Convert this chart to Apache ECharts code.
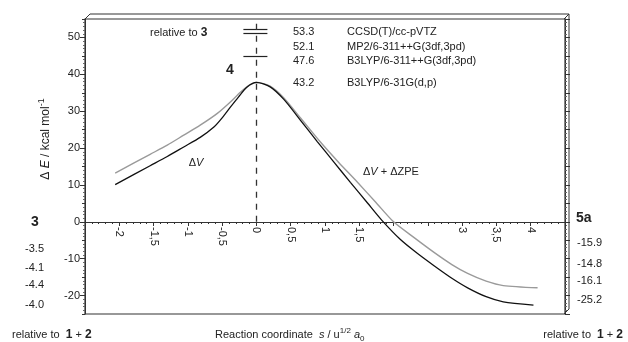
<!DOCTYPE html>
<html>
<head>
<meta charset="utf-8">
<script src="https://cdn.jsdelivr.net/npm/echarts@6/dist/echarts.min.js"></script>
<style>
  html, body { margin: 0; padding: 0; background: #fff; }
  #main { width: 628px; height: 342px; }
</style>
</head>
<body>
<div id="main"></div>
<script>
// ΔV curve (black)
var xV = [-2.06, -1.55, -1.30, -1.06, -0.82, -0.62, -0.50, -0.38, -0.26, -0.14, 0, 0.20, 0.40, 0.64, 0.89, 1.13, 1.37, 1.62, 1.83, 2.10, 2.35, 2.59, 2.85, 3.08, 3.35, 3.60, 4.04];
var yV = [10.1, 15.2, 17.7, 20.3, 22.9, 25.7, 28.2, 31.1, 33.9, 36.5, 37.8, 36.6, 33.2, 27.6, 21.7, 16.2, 10.7, 5.1, 0.4, -4.8, -8.6, -11.9, -15.3, -17.9, -20.3, -21.7, -22.6];
// ΔV + ΔZPE curve (grey)
var xZ = [-2.06, -1.55, -1.30, -1.06, -0.82, -0.57, -0.38, -0.23, -0.09, 0, 0.20, 0.40, 0.65, 0.93, 1.20, 1.47, 1.74, 2.00, 2.30, 2.59, 2.85, 3.08, 3.35, 3.60, 4.10];
var yZ = [13.2, 18.3, 20.8, 23.5, 26.2, 29.4, 32.5, 35.2, 37.2, 37.8, 36.8, 33.6, 28.0, 21.7, 16.1, 10.8, 5.3, 0.0, -4.3, -8.3, -11.6, -14.0, -16.1, -17.3, -17.9];

// short level markers near the top
var levelMarks = [52.1, 51.2, 44.9];
var levelFrom = -0.19, levelTo = 0.16;

// tick labels
var xLabelValues = [-2, -1.5, -1, -0.5, 0, 0.5, 1, 1.5, 3, 3.5, 4];
var yLabelValues = [-20, -10, 0, 10, 20, 30, 40, 50];

// annotation texts
var methods = ['CCSD(T)/cc-pVTZ', 'MP2/6-311++G(3df,3pd)', 'B3LYP/6-311++G(3df,3pd)', 'B3LYP/6-31G(d,p)'];
var methodEnergies = ['53.3', '52.1', '47.6', '43.2'];
var leftValues = ['-3.5', '-4.1', '-4.4', '-4.0'];
var rightValues = ['-15.9', '-14.8', '-16.1', '-25.2'];

function pairs(xs, ys) {
    return xs.map(function (x, i) { return [x, ys[i]]; });
}

var chart = echarts.init(document.getElementById('main'));

var FONT = '"Liberation Sans", Arial, sans-serif';
var TXT = '#222';

function txt(x, y, text, opts) {
    var style = {
        text: text,
        fill: TXT,
        fontFamily: FONT,
        fontSize: 11,
        align: 'left',
        verticalAlign: 'middle'
    };
    for (var k in opts) style[k] = opts[k];
    return { type: 'text', x: x, y: y, style: style, silent: true };
}

var richBase = {
    n: { fontSize: 11, fontFamily: FONT, color: TXT },
    b: { fontSize: 12, fontWeight: 'bold', fontFamily: FONT, color: TXT },
    i: { fontSize: 11, fontStyle: 'italic', fontFamily: FONT, color: TXT },
    sup: { fontSize: 8, fontFamily: FONT, color: TXT, verticalAlign: 'top', lineHeight: 16 },
    sub: { fontSize: 8, fontFamily: FONT, color: TXT, verticalAlign: 'bottom', lineHeight: 12 }
};
var richName = {
    n: { fontSize: 12, fontFamily: FONT, color: TXT },
    i: { fontSize: 12, fontStyle: 'italic', fontFamily: FONT, color: TXT },
    sup: { fontSize: 9, fontFamily: FONT, color: TXT, verticalAlign: 'top', lineHeight: 18 }
};

var graphics = [
    // pseudo 3D back frame
    { type: 'polyline', silent: true, shape: { points: [[85, 19], [90, 14], [569, 14], [569, 309], [564, 314]] },
      style: { stroke: '#333', lineWidth: 1, fill: null } },
    { type: 'line', silent: true, shape: { x1: 564, y1: 19, x2: 569, y2: 14 }, style: { stroke: '#333', lineWidth: 1 } },
    txt(150, 33, '{n|relative to }{b|3}', { rich: richBase }),
    txt(196, 163, '{n|Δ}{i|V}', { rich: richBase, align: 'center' }),
    txt(363, 172, '{n|Δ}{i|V}{n| + ΔZPE}', { rich: richBase }),
    txt(226, 70, '4', { fontSize: 14, fontWeight: 'bold' }),
    txt(35, 222, '3', { fontSize: 14, fontWeight: 'bold', align: 'center' }),
    txt(576, 218, '5a', { fontSize: 14, fontWeight: 'bold' }),
    txt(12, 335, '{n|relative to  }{b|1}{n| + }{b|2}', { rich: richBase }),
    txt(623, 335, '{n|relative to  }{b|1}{n| + }{b|2}', { rich: richBase, align: 'right' }),
    txt(215, 335, '{n|Reaction coordinate  }{i|s}{n| / u}{sup|1/2}{i| a}{sub|0}', { rich: richBase }),
    {
        type: 'text', x: 46, y: 139, rotation: Math.PI / 2, silent: true,
        style: {
            text: '{n|Δ }{i|E}{n| / kcal mol}{sup|-1}',
            rich: richName, align: 'center', verticalAlign: 'middle', fill: TXT
        }
    }
];

var eY = [32, 47, 61, 83];
methods.forEach(function (m, i) {
    graphics.push(txt(347, eY[i], m));
    graphics.push(txt(293, eY[i], methodEnergies[i]));
});
var lY = [249, 268, 285, 305];
leftValues.forEach(function (v, i) { graphics.push(txt(44, lY[i], v, { align: 'right' })); });
var rY = [243, 264, 281, 300];
rightValues.forEach(function (v, i) { graphics.push(txt(577, rY[i], v)); });

var axisCol = '#333';

chart.setOption({
    animation: false,
    textStyle: { fontFamily: FONT },
    grid: { left: 85, right: 63, top: 19, bottom: 28, show: true, borderColor: axisCol, borderWidth: 1.2 },
    xAxis: {
        type: 'value', min: -2.5, max: 4.5, interval: 0.5,
        position: 'bottom',
        offset: -92,
        axisLine: { onZero: false, lineStyle: { color: axisCol, width: 1 } },
        axisTick: { length: 4, lineStyle: { color: axisCol } },
        minorTick: { show: true, splitNumber: 5, length: 2, lineStyle: { color: axisCol } },
        splitLine: { show: false },
        axisLabel: {
            rotate: -90, margin: 5, fontSize: 11, color: TXT,
            customValues: xLabelValues,
            formatter: function (v) { return String(v).replace('.', ','); }
        }
    },
    yAxis: [{
        type: 'value', min: -25, max: 55, interval: 5, position: 'left',
        axisLine: { show: true, onZero: false, lineStyle: { color: axisCol } },
        axisTick: { show: true, length: 5, customValues: yLabelValues, lineStyle: { color: axisCol } },
        splitLine: { show: false },
        axisLabel: { fontSize: 11, color: TXT, margin: 5, customValues: yLabelValues }
    }, {
        type: 'value', min: -25, max: 55, interval: 5, position: 'left',
        axisLine: { show: false, onZero: false },
        axisTick: { show: true, length: 3, lineStyle: { color: axisCol } },
        minorTick: { show: true, splitNumber: 5, length: 2, lineStyle: { color: '#666' } },
        splitLine: { show: false },
        axisLabel: { show: false }
    }, {
        type: 'value', min: -25, max: 55, interval: 5, position: 'right',
        axisLine: { show: true, onZero: false, lineStyle: { color: axisCol } },
        axisTick: { show: true, length: 5, lineStyle: { color: axisCol } },
        minorTick: { show: true, splitNumber: 5, length: 2, lineStyle: { color: '#666' } },
        splitLine: { show: false },
        axisLabel: { show: false }
    }],
    series: [{
        name: 'ΔV + ΔZPE',
        type: 'line',
        smooth: 0.25,
        symbol: 'none',
        data: pairs(xZ, yZ),
        lineStyle: { color: '#9a9a9a', width: 1.4 }
    }, {
        name: 'ΔV',
        type: 'line',
        smooth: 0.25,
        symbol: 'none',
        data: pairs(xV, yV),
        lineStyle: { color: '#111', width: 1.3 },
        markLine: {
            silent: true,
            symbol: 'none',
            label: { show: false },
            lineStyle: { color: '#222', width: 1.2, type: 'solid' },
            data: levelMarks.map(function (y) {
                return [{ coord: [levelFrom, y] }, { coord: [levelTo, y] }];
            }).concat([[
                { coord: [0, 0], lineStyle: { type: [6, 6], color: '#333', width: 1.3 } },
                { coord: [0, 55] }
            ]])
        }
    }],
    graphic: graphics
});
</script>
</body>
</html>
